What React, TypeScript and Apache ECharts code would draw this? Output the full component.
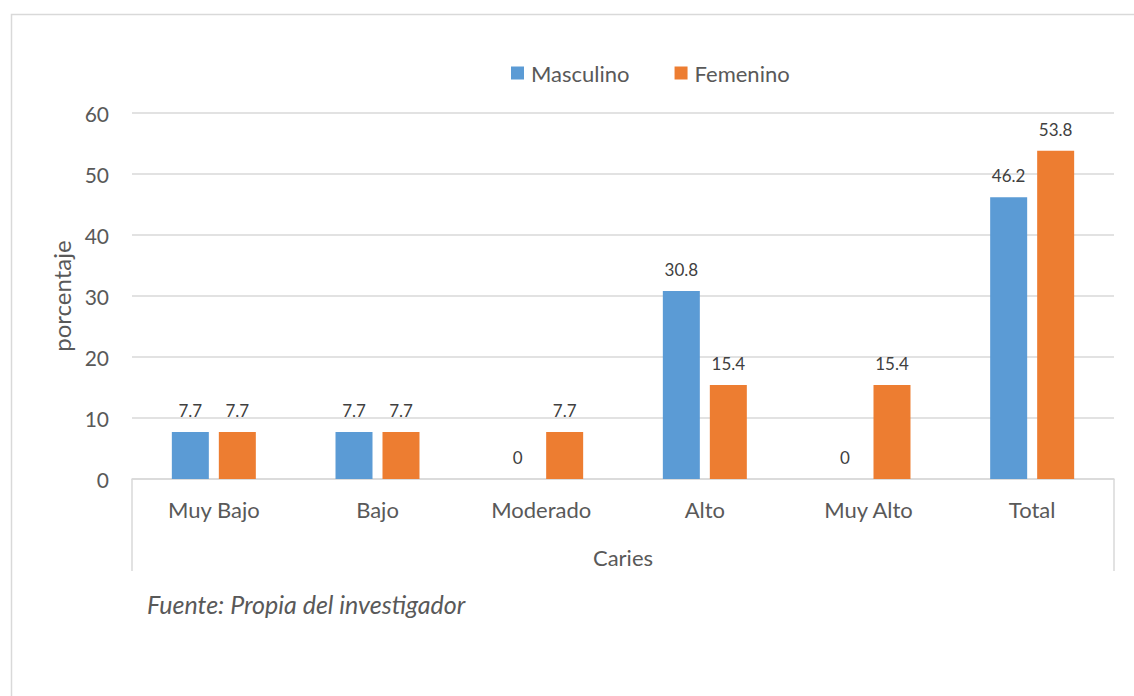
import React, { useEffect, useRef } from "react";
import * as echarts from "echarts";

const categories = ["Muy Bajo", "Bajo", "Moderado", "Alto", "Muy Alto", "Total"];
const masculino = [7.7, 7.7, 0, 30.8, 0, 46.2];
const femenino = [7.7, 7.7, 7.7, 15.4, 15.4, 53.8];
const seriesNames = ["Masculino", "Femenino"];

const FONT = "Lato, 'Open Sans', sans-serif";

export default function App() {
  const ref = useRef<HTMLDivElement>(null);
  useEffect(() => {
    if (!ref.current) return;
    const chart = echarts.init(ref.current, undefined, { renderer: "svg" });
    const labelStyle = {
      show: true,
      position: "top" as const,
      distance: 13,
      color: "#404040",
      fontSize: 17,
      fontFamily: FONT,
    };
    chart.setOption({
      animation: false,
      backgroundColor: "#ffffff",
      textStyle: { fontFamily: FONT },
      grid: { left: 132, right: 20, top: 113, bottom: 217 },
      legend: {
        left: 506,
        top: 57,
        itemWidth: 13,
        itemHeight: 13,
        itemGap: 45,
        icon: "rect",
        textStyle: { fontSize: 22, color: "#595959", fontFamily: FONT, padding: [0, 0, 0, 2] },
        data: seriesNames,
      },
      xAxis: {
        type: "category",
        data: categories,
        name: "Caries",
        nameLocation: "middle",
        nameGap: 67,
        nameTextStyle: { fontSize: 22, color: "#595959", fontFamily: FONT },
        axisLine: { show: true, lineStyle: { color: "#d9d9d9", width: 1.5 } },
        axisTick: { show: false },
        axisLabel: { fontSize: 22, color: "#595959", margin: 19, fontFamily: FONT },
      },
      yAxis: {
        type: "value",
        min: 0,
        max: 60,
        interval: 10,
        name: "porcentaje",
        nameLocation: "middle",
        nameRotate: 90,
        nameGap: 58,
        nameTextStyle: { fontSize: 24, color: "#595959", fontFamily: FONT },
        axisLine: { show: false },
        axisTick: { show: false },
        axisLabel: { fontSize: 21, color: "#595959", margin: 23, fontFamily: FONT },
        splitLine: { lineStyle: { color: "#d9d9d9", width: 1.5 } },
      },
      series: [
        {
          name: seriesNames[0],
          type: "bar",
          data: masculino,
          itemStyle: { color: "#5b9bd5" },
          barWidth: 37,
          barGap: "27%",
          label: labelStyle,
        },
        {
          name: seriesNames[1],
          type: "bar",
          data: femenino,
          itemStyle: { color: "#ed7d31" },
          barWidth: 37,
          barGap: "27%",
          label: labelStyle,
        },
      ],
      graphic: [
        {
          type: "rect",
          shape: { x: 11.5, y: 14.5, width: 1140, height: 700 },
          style: { fill: "none", stroke: "#d9d9d9", lineWidth: 1.5 },
          silent: true,
        },
        {
          type: "line",
          shape: { x1: 132, y1: 479, x2: 132, y2: 571 },
          style: { stroke: "#d9d9d9", lineWidth: 1.5 },
        },
        {
          type: "line",
          shape: { x1: 1114, y1: 479, x2: 1114, y2: 571 },
          style: { stroke: "#d9d9d9", lineWidth: 1.5 },
        },
        {
          type: "text",
          left: 147,
          top: 591,
          style: {
            text: "Fuente: Propia del investigador",
            fontSize: 25,
            fontStyle: "italic",
            fontFamily: FONT,
            fill: "#595959",
          },
        },
      ],
    });
    return () => chart.dispose();
  }, []);
  return (
    <div
      ref={ref}
      style={{ position: "absolute", left: 0, top: 0, width: 1134, height: 696 }}
    />
  );
}
